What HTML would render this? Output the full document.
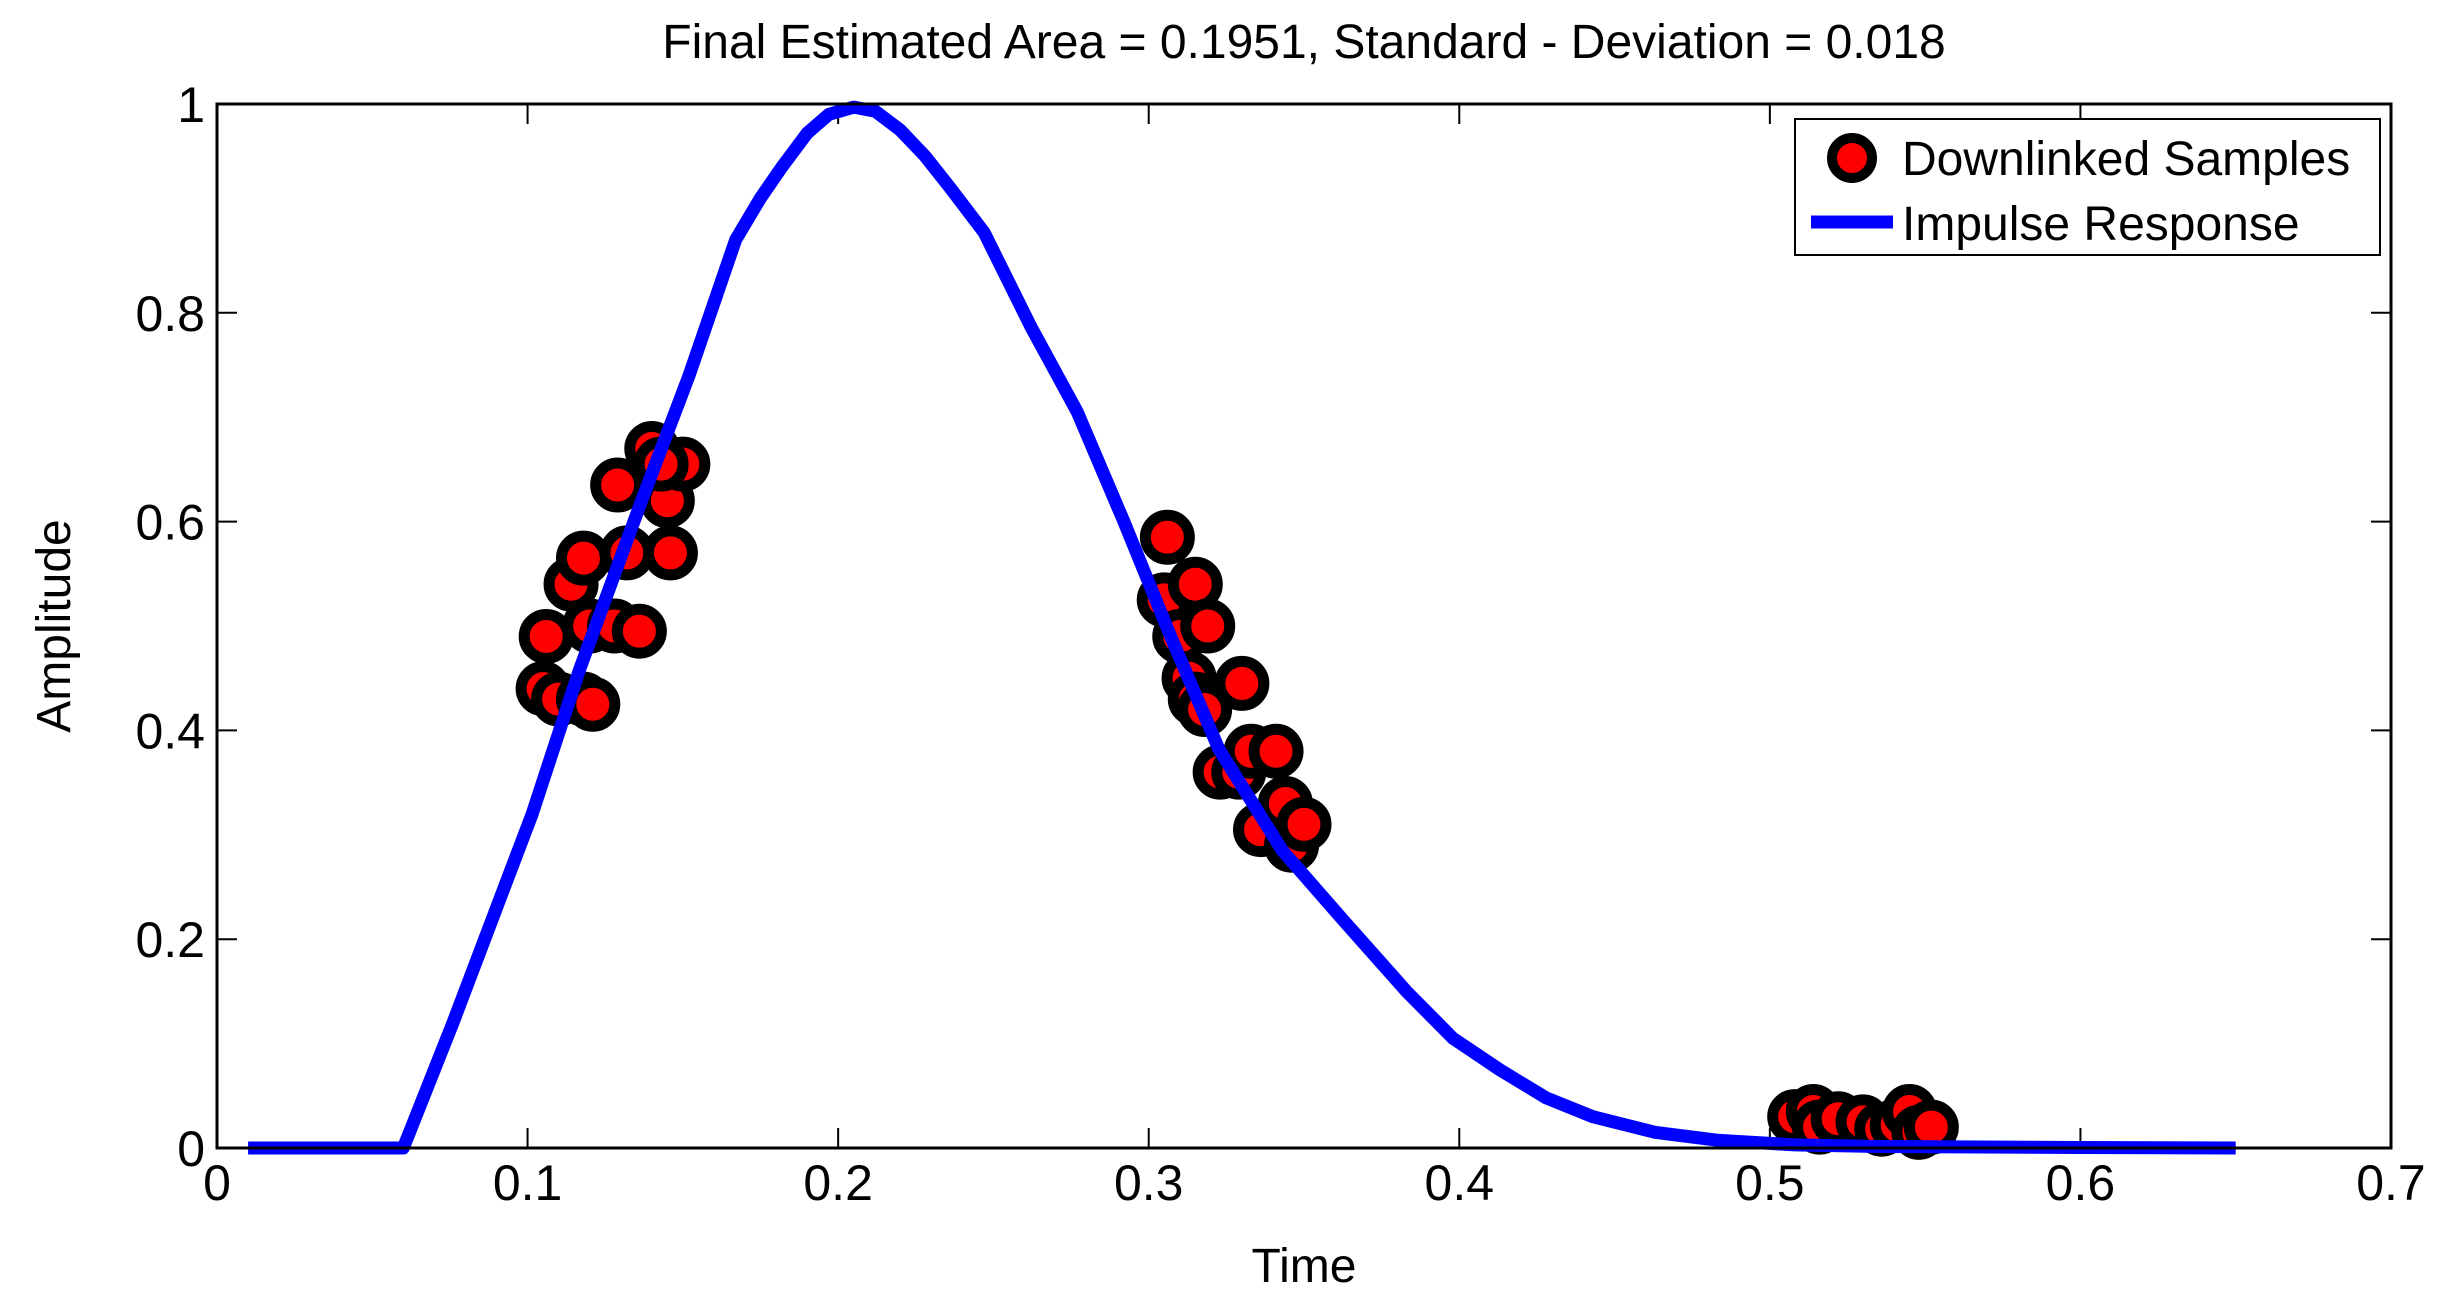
<!DOCTYPE html>
<html><head><meta charset="utf-8"><style>
html,body{margin:0;padding:0;background:#fff;}
svg{display:block;font-family:"Liberation Sans",sans-serif;}
</style></head><body>
<svg id="chart" width="2448" height="1306" viewBox="0 0 2448 1306">
<rect x="0" y="0" width="2448" height="1306" fill="#fff"/>
<text x="1304" y="58" font-size="48" text-anchor="middle">Final Estimated Area = 0.1951, Standard - Deviation = 0.018</text>
<text x="1304" y="1282" font-size="48" text-anchor="middle">Time</text>
<text transform="translate(70,626) rotate(-90)" font-size="48" text-anchor="middle">Amplitude</text>
<g id="ticks"></g>
<g id="series"></g>
<rect x="217" y="104" width="2174" height="1044" fill="none" stroke="#000" stroke-width="3"/>
<g>
<rect x="1795" y="119" width="585" height="136" fill="#fff" stroke="#000" stroke-width="2"/>
<circle cx="1852" cy="158" r="20" fill="#f00" stroke="#000" stroke-width="10"/>
<text x="1902" y="175" font-size="48">Downlinked Samples</text>
<line x1="1811" y1="222" x2="1893" y2="222" stroke="#00f" stroke-width="13"/>
<text x="1902" y="240" font-size="48">Impulse Response</text>
</g>
</svg>
<script>
const curveT=[0.01,0.06,0.076,0.09,0.1015,0.1166,0.1367,0.152,0.167,0.175,0.182,0.19,0.197,0.205,0.212,0.22,0.228,0.236,0.247,0.262,0.277,0.292,0.3075,0.3226,0.343,0.363,0.383,0.398,0.413,0.428,0.443,0.463,0.483,0.508,0.533,0.6,0.65];
const curveV=[0,0,0.12,0.23,0.32,0.457,0.62,0.74,0.87,0.91,0.94,0.972,0.99,0.997,0.993,0.975,0.95,0.92,0.877,0.787,0.705,0.6,0.487,0.382,0.285,0.217,0.15,0.105,0.075,0.048,0.03,0.015,0.0075,0.003,0.0015,0.0005,0];
const sampleT=[0.106,0.105,0.110,0.114,0.118,0.118,0.121,0.120,0.128,0.129,0.132,0.136,0.140,0.145,0.146,0.150,0.143,0.306,0.305,0.310,0.315,0.319,0.313,0.315,0.318,0.323,0.330,0.329,0.333,0.341,0.336,0.344,0.346,0.350,0.508,0.514,0.516,0.522,0.530,0.536,0.541,0.545,0.548,0.552];
const sampleV=[0.49,0.44,0.43,0.54,0.565,0.43,0.425,0.50,0.50,0.635,0.57,0.495,0.67,0.62,0.57,0.655,0.655,0.585,0.525,0.49,0.54,0.50,0.45,0.43,0.42,0.36,0.445,0.36,0.38,0.38,0.305,0.33,0.29,0.31,0.03,0.035,0.02,0.028,0.025,0.018,0.022,0.035,0.015,0.02];
const xTicks=[0,0.1,0.2,0.3,0.4,0.5,0.6,0.7];
const xTickLabels=["0","0.1","0.2","0.3","0.4","0.5","0.6","0.7"];
const yTicks=[0,0.2,0.4,0.6,0.8,1];
const yTickLabels=["0","0.2","0.4","0.6","0.8","1"];
const X0=217,X1=2391,Y0=1148,Y1=104,XMAX=0.7,YMAX=1;
function sx(t){return X0+t/XMAX*(X1-X0);}
function sy(v){return Y0-v/YMAX*(Y0-Y1);}
const NS="http://www.w3.org/2000/svg";
const tg=document.getElementById('ticks');
const sg=document.getElementById('series');
function mk(tag,attrs,parent){const e=document.createElementNS(NS,tag);for(const k in attrs)e.setAttribute(k,attrs[k]);parent.appendChild(e);return e;}
xTicks.forEach((t,i)=>{
 const x=sx(t);
 const a=mk('line',{x1:x,y1:Y0,x2:x,y2:Y0-20,stroke:'#000','stroke-width':2},tg);
 
 
 const b=mk('line',{x1:x,y1:Y1,x2:x,y2:Y1+20,stroke:'#000','stroke-width':2},tg);
 
 
 const l=mk('text',{x:x,y:1200,'font-size':50,'text-anchor':'middle'},tg);
 l.textContent=xTickLabels[i];
 
 
});
yTicks.forEach((v,i)=>{
 const y=sy(v);
 const a=mk('line',{x1:X0,y1:y,x2:X0+20,y2:y,stroke:'#000','stroke-width':2},tg);
 
 
 const b=mk('line',{x1:X1,y1:y,x2:X1-20,y2:y,stroke:'#000','stroke-width':2},tg);
 
 
 const l=mk('text',{x:X0-12,y:y+18,'font-size':50,'text-anchor':'end'},tg);
 l.textContent=yTickLabels[i];
 
 
});
const pts=curveT.map((t,i)=>sx(t).toFixed(1)+','+sy(curveV[i]).toFixed(1)).join(' ');
const pl=mk('polyline',{points:pts,fill:'none',stroke:'#00f','stroke-width':13,'stroke-linejoin':'round'},sg);


sampleT.forEach((t,i)=>{
 const c=mk('circle',{cx:sx(t),cy:sy(sampleV[i]),r:22,fill:'#f00',stroke:'#000','stroke-width':11},sg);
 
 
});
sg.appendChild(pl);
</script>
</body></html>
